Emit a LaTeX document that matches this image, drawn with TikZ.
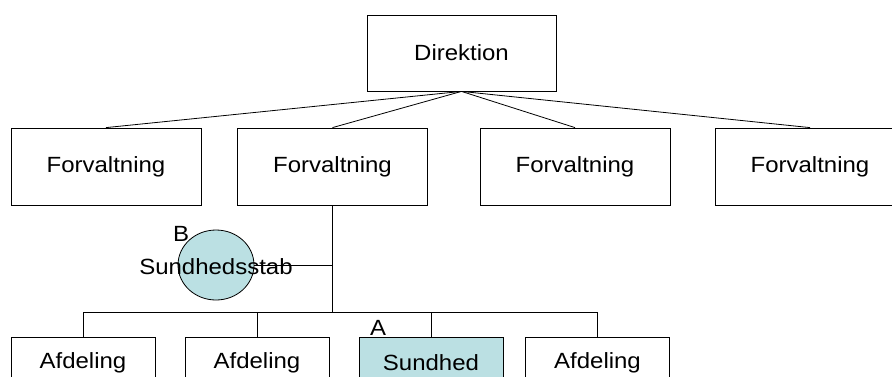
\documentclass[tikz,border=0pt]{standalone}
\usepackage{fontspec}
\setmainfont[FakeStretch=1.09]{Liberation Sans}
\usetikzlibrary{shapes.geometric}
\definecolor{paleblue}{RGB}{187,224,227}
\tikzset{
  box/.style={draw=black, line width=0.8pt, rectangle, inner sep=0pt, font=\fontsize{22}{26}\selectfont},
  topbox/.style={box, minimum width=189pt, minimum height=76pt},
  midbox/.style={box, minimum width=190pt, minimum height=77pt},
  lowbox/.style={box, minimum width=144pt, minimum height=50pt},
  link/.style={draw=black, line width=0.8pt},
  lbl/.style={inner sep=0pt, font=\fontsize{22}{26}\selectfont},
}
\begin{document}
\begin{tikzpicture}[x=1pt,y=-1pt]
\useasboundingbox (0,0) rectangle (892,376);
\clip (0,0) rectangle (892,376);
\fill[white] (0,0) rectangle (892,376);
\node[topbox] (dir) at (461.5,53) {Direktion};
\node[midbox] (f1) at (106,166.5) {Forvaltning};
\node[midbox] (f2) at (332.5,166.5) {Forvaltning};
\node[midbox] (f3) at (575,166.5) {Forvaltning};
\node[midbox] (f4) at (810,166.5) {Forvaltning};
\foreach \n in {f1,f2,f3,f4} \draw[link] (dir.south) -- (\n.north);
\node[lowbox] (a1) at (83,362.5) {Afdeling};
\node[lowbox] (a2) at (257,362.5) {Afdeling};
\node[lowbox, fill=paleblue] (a3) at (431,362.5) {Sundhed};
\node[lowbox] (a4) at (597.5,362.5) {Afdeling};
\coordinate (bus) at (332.5,312);
\draw[link] (f2.south) -- (bus);
\draw[link] (a1.north |- bus) -- (a4.north |- bus);
\foreach \n in {a1,a2,a3,a4} \draw[link] (\n.north |- bus) -- (\n.north);
\node[draw=black, line width=0.8pt, fill=paleblue, ellipse, minimum width=76pt, minimum height=70pt, inner sep=0pt] (sst) at (216,265) {};
\draw[link] (sst.east) -- (sst.east -| bus);
\node[lbl] (sstxt) at (216,267) {Sundhedsstab};
\node[lbl] (lb) at (181,234) {B};
\node[lbl] (la) at (378,328) {A};
\end{tikzpicture}
\end{document}
